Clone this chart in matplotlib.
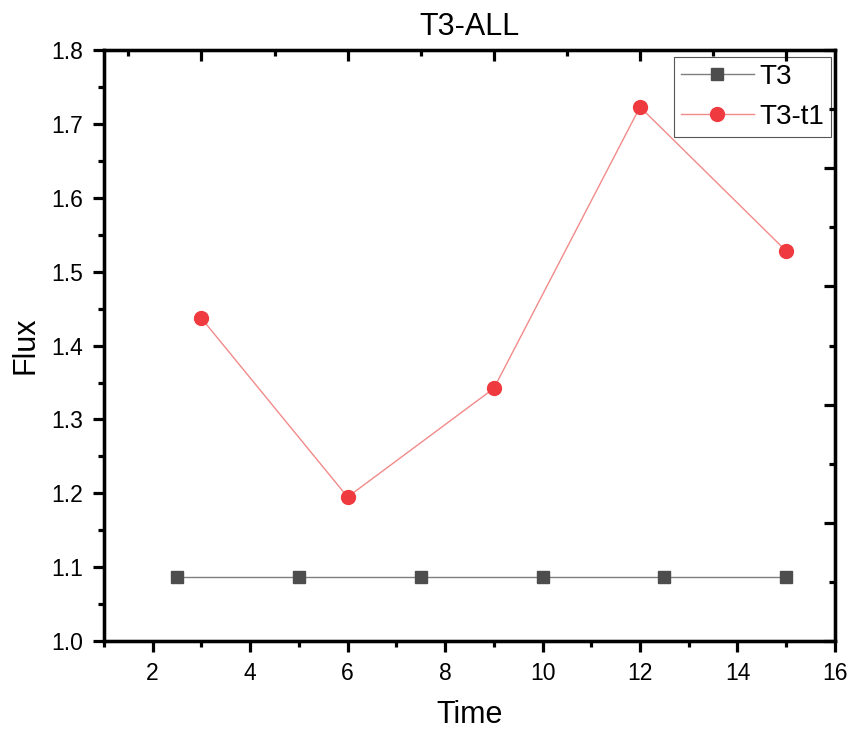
import matplotlib
matplotlib.use('Agg')
import matplotlib.pyplot as plt
from matplotlib.ticker import MultipleLocator, FixedLocator, NullFormatter

plt.rcParams['font.family'] = ['Liberation Sans', 'DejaVu Sans']

# Series data
t3_time = [2.5, 5, 7.5, 10, 12.5, 15]
t3_flux = [1.087, 1.087, 1.087, 1.087, 1.087, 1.087]
t3t1_time = [3, 6, 9, 12, 15]
t3t1_flux = [1.437, 1.195, 1.342, 1.723, 1.528]

fig = plt.figure(figsize=(8.52, 7.31), dpi=100)
ax = fig.add_axes([0.122, 0.123, 0.858, 0.8085])

ax.plot(t3_time, t3_flux, color='#7f7f7f', lw=1.0, marker='s', ms=9,
        mfc='#4d4d4d', mec='#4d4d4d', label='T3', zorder=3)
ax.plot(t3t1_time, t3t1_flux, color='#f28a8a', lw=1.0, marker='o', ms=10,
        mfc='#ef3b40', mec='#ef3b40', label='T3-t1', zorder=3)

ax.set_xlim(1, 16)
ax.set_ylim(1.0, 1.8)
ax.xaxis.set_major_locator(MultipleLocator(2))
ax.xaxis.set_minor_locator(MultipleLocator(1))
ax.yaxis.set_major_locator(MultipleLocator(0.1))
ax.yaxis.set_minor_locator(MultipleLocator(0.05))
ax.yaxis.set_major_formatter(matplotlib.ticker.FormatStrFormatter('%.1f'))

lw = 2.3
for s in ax.spines.values():
    s.set_linewidth(lw)
ax.tick_params(which='major', direction='out', length=8, width=lw, labelsize=16.5, pad=7)
ax.tick_params(which='minor', direction='out', length=4, width=lw)

ax.set_xlabel('Time', fontsize=22, labelpad=11)
ax.set_ylabel('Flux', fontsize=22, labelpad=8)
ax.set_title('T3-ALL', fontsize=22, pad=11)

# decorative top and right axes (inward ticks, no labels)
top = ax.twiny()
top.set_xlim(1, 16)
top.xaxis.set_major_locator(FixedLocator([3, 6, 9, 12, 15]))
top.xaxis.set_minor_locator(FixedLocator([1.5, 4.5, 7.5, 10.5, 13.5]))
top.xaxis.set_major_formatter(NullFormatter())
top.tick_params(which='major', direction='in', length=8, width=lw)
top.tick_params(which='minor', direction='in', length=4, width=lw)

right = ax.twinx()
right.set_ylim(0, 5)
right.yaxis.set_major_locator(MultipleLocator(1))
right.yaxis.set_minor_locator(MultipleLocator(0.5))
right.yaxis.set_major_formatter(NullFormatter())
right.tick_params(which='major', direction='in', length=8, width=lw)
right.tick_params(which='minor', direction='in', length=4, width=lw)
for a in (top, right):
    for s in a.spines.values():
        s.set_linewidth(lw)

leg = ax.legend(loc='upper right', fontsize=20, fancybox=False, framealpha=1,
                edgecolor='#555555', borderaxespad=0, handlelength=2.6,
                handletextpad=0.2, labelspacing=0.5, borderpad=0.25,
                bbox_to_anchor=(0.9945, 0.988))
leg.get_frame().set_linewidth(0.8)
leg.set_zorder(10)

fig.savefig('out.png', dpi=100)
